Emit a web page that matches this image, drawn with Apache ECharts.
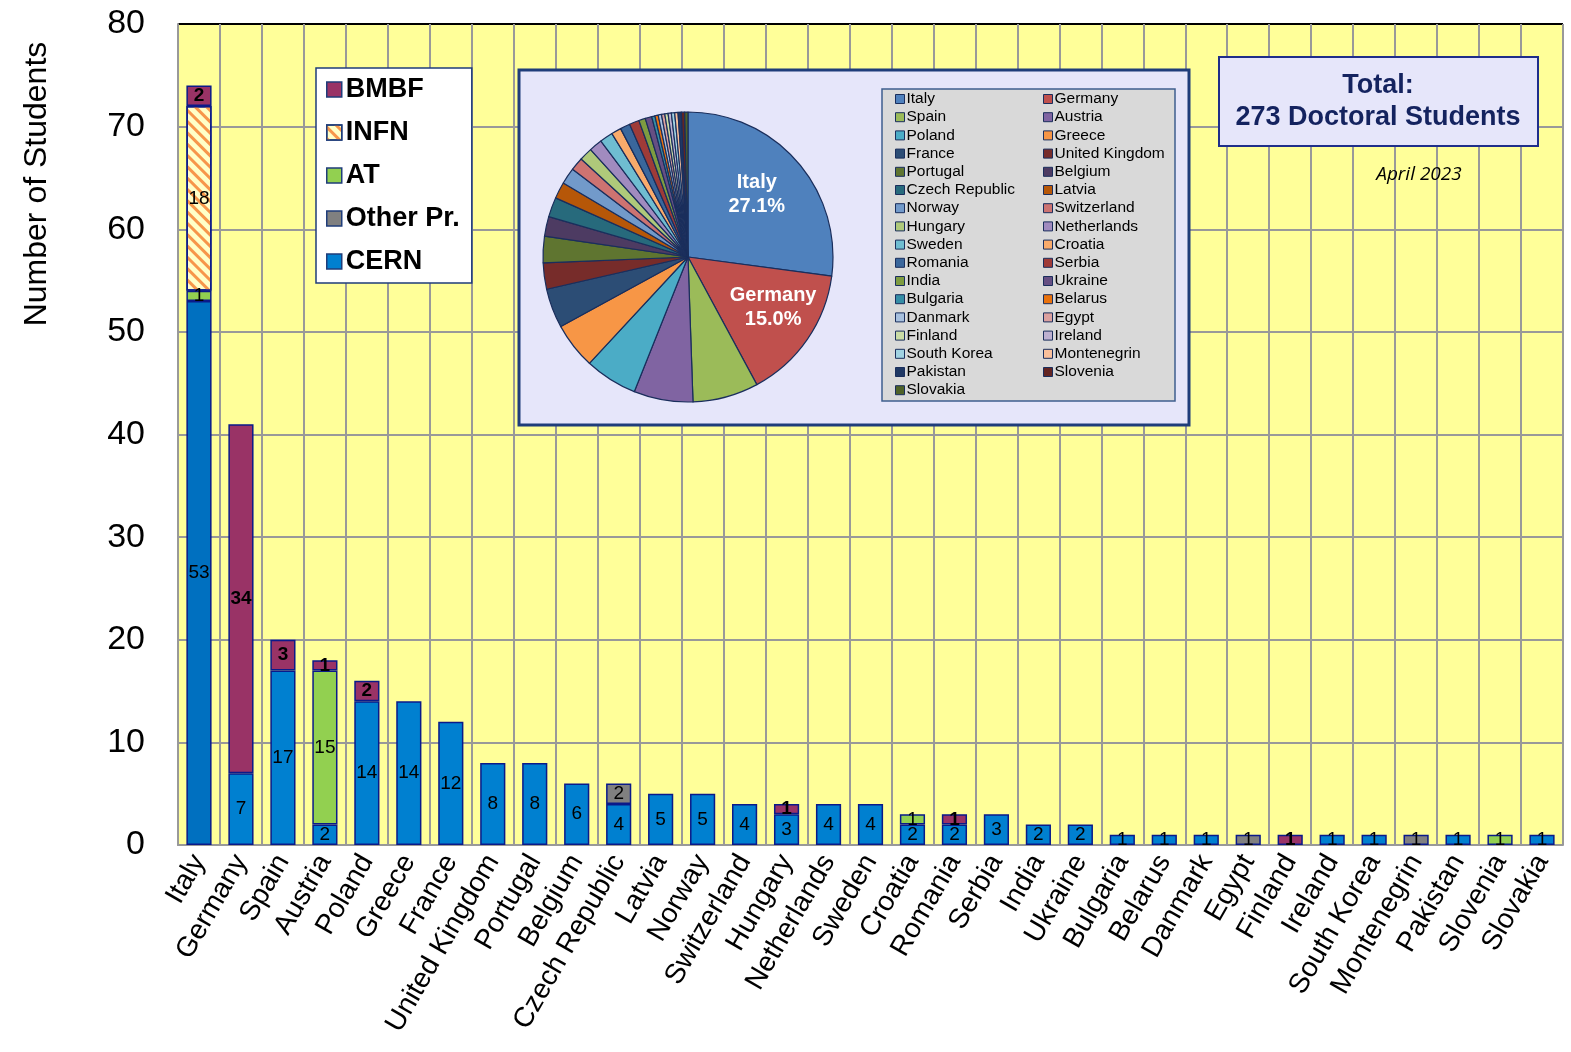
<!DOCTYPE html>
<html>
<head>
<meta charset="utf-8">
<script src="https://cdn.jsdelivr.net/npm/echarts@6/dist/echarts.min.js"></script>
<style>html,body{margin:0;padding:0;background:#fff;}#c{width:1571px;height:1052px;}</style>
</head>
<body>
<div id="c"></div>
<script>
const categories = ['Italy','Germany','Spain','Austria','Poland','Greece','France','United Kingdom','Portugal','Belgium','Czech Republic','Latvia','Norway','Switzerland','Hungary','Netherlands','Sweden','Croatia','Romania','Serbia','India','Ukraine','Bulgaria','Belarus','Danmark','Egypt','Finland','Ireland','South Korea','Montenegrin','Pakistan','Slovenia','Slovakia'];
const cern    = [53,7,17,2,14,14,12,8,8,6,4,5,5,4,3,4,4,2,2,3,2,2,1,1,1,0,0,1,1,0,1,0,1];
const otherPr = [0,0,0,0,0,0,0,0,0,0,2,0,0,0,0,0,0,0,0,0,0,0,0,0,0,1,0,0,0,1,0,0,0];
const at      = [1,0,0,15,0,0,0,0,0,0,0,0,0,0,0,0,0,1,0,0,0,0,0,0,0,0,0,0,0,0,0,1,0];
const infn    = [18,0,0,0,0,0,0,0,0,0,0,0,0,0,0,0,0,0,0,0,0,0,0,0,0,0,0,0,0,0,0,0,0];
const bmbf    = [2,34,3,1,2,0,0,0,0,0,0,0,0,0,1,0,0,0,1,0,0,0,0,0,0,0,1,0,0,0,0,0,0];
const yTicks  = [0,10,20,30,40,50,60,70,80];
const totalText = ['Total:', '273 Doctoral Students'];
const dateText = 'April 2023';

const piePalette = ['#4F81BD','#C0504D','#9BBB59','#8064A2','#4BACC6','#F79646',
  '#2C4D75','#772C2A','#5F7530','#4D3B62','#276A7C','#B65708',
  '#729ACA','#CD7371','#AFC97A','#A18BBF','#6FBDD1','#F9AB6B',
  '#3A679C','#9F3B38','#7E9C40','#664F83','#358EA6','#E9720D',
  '#A7C0DE','#DBA09F','#CADBA5','#BDB0D0','#A1D3E2','#FAC09B',
  '#1F3864','#632523','#4F6228'];

const FONT = 'Arial, "Liberation Sans", sans-serif';
const NAVY = '#1F3D7A';
const BORDER = '#0A1A8A';

const totals = categories.map((c, i) => cern[i] + otherPr[i] + at[i] + infn[i] + bmbf[i]);
const labelOffsets = {Italy: [12, -13], Germany: [23, 8]};
const pieData = categories.map((c, i) => {
  const d = {name: c, value: totals[i], itemStyle: {color: piePalette[i % piePalette.length]}};
  if (labelOffsets[c]) d.label = {show: true, offset: labelOffsets[c]};
  return d;
});

const toData = (arr) => arr.map(v => v > 0 ? v : null);
function barSeries(name, arr, color, bold) {
  return {
    name: name, type: 'bar', stack: 'total', barWidth: '60%',
    data: toData(arr),
    itemStyle: {color: color, borderColor: BORDER, borderWidth: 1.5},
    label: {show: true, position: 'inside', color: '#000', fontSize: 19, fontFamily: FONT,
      fontWeight: bold ? 'bold' : 'normal',
      formatter: p => (p.value > 0 ? String(p.value) : '')},
    emphasis: {disabled: true}
  };
}

const cernSeries = barSeries('CERN', cern, '#0080D0', false);
cernSeries.data = cern.map((v, i) => i === 0 ? {value: v, itemStyle: {color: '#0070C0'}} : (v > 0 ? v : null));
const series = [
  cernSeries,
  barSeries('Other Pr.', otherPr, '#808080', false),
  barSeries('AT', at, '#92D050', false),
  barSeries('INFN', infn, '#FFFFC8', false),
  barSeries('BMBF', bmbf, '#993366', true),
  {
    type: 'pie', name: 'countries', z: 10,
    center: [688, 257], radius: 145, startAngle: 90, clockwise: true,
    data: pieData,
    itemStyle: {borderColor: '#1A2E5C', borderWidth: 1.2},
    label: {show: false, position: 'inside', color: '#fff', fontWeight: 'bold', fontSize: 20, fontFamily: FONT, lineHeight: 24,
      formatter: p => p.name + '\n' + p.percent.toFixed(1) + '%'},
    labelLine: {show: false},
    emphasis: {disabled: true}
  }
];
series[3].itemStyle.decal = {symbol: 'rect', symbolSize: 1, dashArrayX: [1, 0], dashArrayY: [3, 5], rotation: Math.PI / 4, color: '#F7964A'};

const leftCol = categories.filter((c, i) => i % 2 === 0);
const rightCol = categories.filter((c, i) => i % 2 === 1);
const pieLegend = (names, left) => ({
  data: names, left: left, top: 86, orient: 'vertical', z: 20,
  itemWidth: 9, itemHeight: 9, itemGap: 2.2, icon: 'rect', selectedMode: false,
  itemStyle: {borderColor: '#1A2E5C', borderWidth: 1},
  textStyle: {fontSize: 15.5, fontFamily: FONT, color: '#000', padding: [0, 0, 0, -3]}
});

const splitColors = yTicks.map((t, i) => i === yTicks.length - 1 ? '#000' : '#999');

const option = {
  animation: false,
  grid: {left: 178, right: 8, top: 24, bottom: 207, show: true, backgroundColor: '#FFFF99', borderWidth: 0},
  xAxis: {
    type: 'category', data: categories,
    axisLine: {lineStyle: {color: '#999', width: 2}},
    axisTick: {show: false},
    splitLine: {show: true, lineStyle: {color: '#999', width: 2}},
    axisLabel: {interval: 0, rotate: 60, fontSize: 28, fontFamily: FONT, color: '#000', margin: 12}
  },
  yAxis: {
    type: 'value', min: 0, max: 80, interval: 10,
    axisLine: {show: true, lineStyle: {color: '#999', width: 2}},
    axisTick: {show: false},
    splitLine: {show: true, lineStyle: {color: splitColors, width: 2}},
    axisLabel: {fontSize: 34, fontFamily: FONT, color: '#000', margin: 33}
  },
  legend: [
    {
      data: ['BMBF', 'INFN', 'AT', 'Other Pr.', 'CERN'],
      left: 316, top: 68, orient: 'vertical', z: 20,
      backgroundColor: '#fff', borderColor: NAVY, borderWidth: 1.5,
      padding: [8, 12, 8, 10], itemGap: 16, itemWidth: 15, itemHeight: 15, icon: 'rect',
      selectedMode: false,
      itemStyle: {borderColor: NAVY, borderWidth: 1.5},
      textStyle: {fontSize: 27, fontWeight: 'bold', fontFamily: FONT, color: '#000', padding: [0, 0, 0, -1]}
    },
    pieLegend(leftCol, 890),
    pieLegend(rightCol, 1038)
  ],
  graphic: [
    {type: 'rect', z: 5, shape: {x: 519, y: 70, width: 670, height: 355},
      style: {fill: '#E6E6FA', stroke: NAVY, lineWidth: 3}},
    {type: 'rect', z: 6, shape: {x: 882, y: 89, width: 293, height: 312},
      style: {fill: '#D9D9D9', stroke: '#3F5F8F', lineWidth: 1.5}},
    {type: 'rect', z: 5, shape: {x: 1219, y: 57, width: 319, height: 89},
      style: {fill: '#E6E6FA', stroke: '#1F2E8A', lineWidth: 2}},
    {type: 'text', z: 6, x: 1378, y: 86,
      style: {text: totalText[0], font: 'bold 27px ' + FONT, fill: '#14235F', textAlign: 'center', textVerticalAlign: 'middle'}},
    {type: 'text', z: 6, x: 1378, y: 118,
      style: {text: totalText[1], font: 'bold 27px ' + FONT, fill: '#14235F', textAlign: 'center', textVerticalAlign: 'middle'}},
    {type: 'text', z: 6, x: 1419, y: 175,
      style: {text: dateText, font: 'italic 19px "Open Sans", sans-serif', fill: '#000', textAlign: 'center', textVerticalAlign: 'middle'}},
    {type: 'text', z: 6, x: 37, y: 184, rotation: Math.PI / 2,
      style: {text: 'Number of Students', font: '32px ' + FONT, fill: '#000', textAlign: 'center', textVerticalAlign: 'middle'}}
  ],
  series: series
};

const chart = echarts.init(document.getElementById('c'), null, {renderer: 'canvas'});
chart.setOption(option);
</script>
</body>
</html>
